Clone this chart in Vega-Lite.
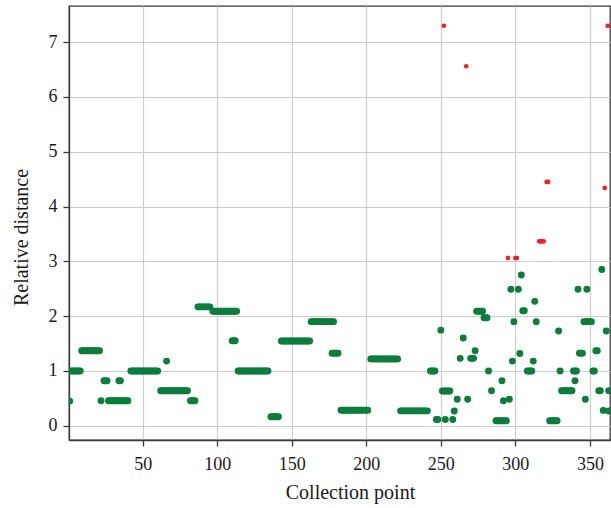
{
  "$schema": "https://vega.github.io/schema/vega-lite/v6.json",
  "width": 541,
  "height": 434,
  "autosize": {"type": "none"},
  "padding": {"left": 69, "top": 6, "right": 1, "bottom": 68},
  "background": "white",
  "config": {
    "font": "Liberation Serif",
    "view": {"stroke": "#3a3a3a", "strokeWidth": 1.3},
    "axis": {
      "gridColor": "#cccccc",
      "gridWidth": 1.2,
      "domainColor": "#3a3a3a",
      "domainWidth": 1.3,
      "tickColor": "#3a3a3a",
      "tickWidth": 1.3,
      "tickSize": 6,
      "labelFont": "Liberation Serif",
      "labelFontSize": 18,
      "labelColor": "#1a1a1a",
      "titleFont": "Liberation Serif",
      "titleFontSize": 20,
      "titleFontWeight": "normal",
      "titleColor": "#1a1a1a"
    }
  },
  "data": {
    "values": [
      {"point": 1, "distance": 0.45, "status": "normal"},
      {"point": 2, "distance": 1.0, "status": "normal"}, {"point": 3, "distance": 1.0, "status": "normal"}, {"point": 4, "distance": 1.0, "status": "normal"}, {"point": 5, "distance": 1.0, "status": "normal"}, {"point": 6, "distance": 1.0, "status": "normal"}, {"point": 7, "distance": 1.0, "status": "normal"}, {"point": 8, "distance": 1.0, "status": "normal"},
      {"point": 9, "distance": 1.37, "status": "normal"}, {"point": 10, "distance": 1.37, "status": "normal"}, {"point": 11, "distance": 1.37, "status": "normal"}, {"point": 12, "distance": 1.37, "status": "normal"}, {"point": 13, "distance": 1.37, "status": "normal"}, {"point": 14, "distance": 1.37, "status": "normal"}, {"point": 15, "distance": 1.37, "status": "normal"}, {"point": 16, "distance": 1.37, "status": "normal"}, {"point": 17, "distance": 1.37, "status": "normal"}, {"point": 18, "distance": 1.37, "status": "normal"}, {"point": 19, "distance": 1.37, "status": "normal"}, {"point": 20, "distance": 1.37, "status": "normal"}, {"point": 21, "distance": 1.37, "status": "normal"},
      {"point": 22, "distance": 0.455, "status": "normal"},
      {"point": 24, "distance": 0.82, "status": "normal"}, {"point": 25, "distance": 0.82, "status": "normal"}, {"point": 26, "distance": 0.82, "status": "normal"},
      {"point": 27, "distance": 0.455, "status": "normal"}, {"point": 28, "distance": 0.455, "status": "normal"}, {"point": 29, "distance": 0.455, "status": "normal"}, {"point": 30, "distance": 0.455, "status": "normal"}, {"point": 31, "distance": 0.455, "status": "normal"}, {"point": 32, "distance": 0.455, "status": "normal"}, {"point": 33, "distance": 0.455, "status": "normal"}, {"point": 34, "distance": 0.455, "status": "normal"}, {"point": 35, "distance": 0.455, "status": "normal"}, {"point": 36, "distance": 0.455, "status": "normal"}, {"point": 37, "distance": 0.455, "status": "normal"}, {"point": 38, "distance": 0.455, "status": "normal"}, {"point": 39, "distance": 0.455, "status": "normal"}, {"point": 40, "distance": 0.455, "status": "normal"},
      {"point": 34, "distance": 0.82, "status": "normal"}, {"point": 35, "distance": 0.82, "status": "normal"},
      {"point": 42, "distance": 1.0, "status": "normal"}, {"point": 43, "distance": 1.0, "status": "normal"}, {"point": 44, "distance": 1.0, "status": "normal"}, {"point": 45, "distance": 1.0, "status": "normal"}, {"point": 46, "distance": 1.0, "status": "normal"}, {"point": 47, "distance": 1.0, "status": "normal"}, {"point": 48, "distance": 1.0, "status": "normal"}, {"point": 49, "distance": 1.0, "status": "normal"}, {"point": 50, "distance": 1.0, "status": "normal"}, {"point": 51, "distance": 1.0, "status": "normal"}, {"point": 52, "distance": 1.0, "status": "normal"}, {"point": 53, "distance": 1.0, "status": "normal"}, {"point": 54, "distance": 1.0, "status": "normal"}, {"point": 55, "distance": 1.0, "status": "normal"}, {"point": 56, "distance": 1.0, "status": "normal"}, {"point": 57, "distance": 1.0, "status": "normal"}, {"point": 58, "distance": 1.0, "status": "normal"}, {"point": 59, "distance": 1.0, "status": "normal"}, {"point": 60, "distance": 1.0, "status": "normal"},
      {"point": 62, "distance": 0.64, "status": "normal"}, {"point": 63, "distance": 0.64, "status": "normal"}, {"point": 64, "distance": 0.64, "status": "normal"}, {"point": 65, "distance": 0.64, "status": "normal"}, {"point": 66, "distance": 0.64, "status": "normal"}, {"point": 67, "distance": 0.64, "status": "normal"}, {"point": 68, "distance": 0.64, "status": "normal"}, {"point": 69, "distance": 0.64, "status": "normal"}, {"point": 70, "distance": 0.64, "status": "normal"}, {"point": 71, "distance": 0.64, "status": "normal"}, {"point": 72, "distance": 0.64, "status": "normal"}, {"point": 73, "distance": 0.64, "status": "normal"}, {"point": 74, "distance": 0.64, "status": "normal"}, {"point": 75, "distance": 0.64, "status": "normal"}, {"point": 76, "distance": 0.64, "status": "normal"}, {"point": 77, "distance": 0.64, "status": "normal"}, {"point": 78, "distance": 0.64, "status": "normal"}, {"point": 79, "distance": 0.64, "status": "normal"}, {"point": 80, "distance": 0.64, "status": "normal"},
      {"point": 66, "distance": 1.18, "status": "normal"},
      {"point": 82, "distance": 0.455, "status": "normal"}, {"point": 83, "distance": 0.455, "status": "normal"}, {"point": 84, "distance": 0.455, "status": "normal"}, {"point": 85, "distance": 0.455, "status": "normal"},
      {"point": 87, "distance": 2.17, "status": "normal"}, {"point": 88, "distance": 2.17, "status": "normal"}, {"point": 89, "distance": 2.17, "status": "normal"}, {"point": 90, "distance": 2.17, "status": "normal"}, {"point": 91, "distance": 2.17, "status": "normal"}, {"point": 92, "distance": 2.17, "status": "normal"}, {"point": 93, "distance": 2.17, "status": "normal"}, {"point": 94, "distance": 2.17, "status": "normal"}, {"point": 95, "distance": 2.17, "status": "normal"},
      {"point": 97, "distance": 2.09, "status": "normal"}, {"point": 98, "distance": 2.09, "status": "normal"}, {"point": 99, "distance": 2.09, "status": "normal"}, {"point": 100, "distance": 2.09, "status": "normal"}, {"point": 101, "distance": 2.09, "status": "normal"}, {"point": 102, "distance": 2.09, "status": "normal"}, {"point": 103, "distance": 2.09, "status": "normal"}, {"point": 104, "distance": 2.09, "status": "normal"}, {"point": 105, "distance": 2.09, "status": "normal"}, {"point": 106, "distance": 2.09, "status": "normal"}, {"point": 107, "distance": 2.09, "status": "normal"}, {"point": 108, "distance": 2.09, "status": "normal"}, {"point": 109, "distance": 2.09, "status": "normal"}, {"point": 110, "distance": 2.09, "status": "normal"}, {"point": 111, "distance": 2.09, "status": "normal"}, {"point": 112, "distance": 2.09, "status": "normal"}, {"point": 113, "distance": 2.09, "status": "normal"},
      {"point": 110, "distance": 1.55, "status": "normal"}, {"point": 111, "distance": 1.55, "status": "normal"}, {"point": 112, "distance": 1.55, "status": "normal"},
      {"point": 114, "distance": 1.0, "status": "normal"}, {"point": 115, "distance": 1.0, "status": "normal"}, {"point": 116, "distance": 1.0, "status": "normal"}, {"point": 117, "distance": 1.0, "status": "normal"}, {"point": 118, "distance": 1.0, "status": "normal"}, {"point": 119, "distance": 1.0, "status": "normal"}, {"point": 120, "distance": 1.0, "status": "normal"}, {"point": 121, "distance": 1.0, "status": "normal"}, {"point": 122, "distance": 1.0, "status": "normal"}, {"point": 123, "distance": 1.0, "status": "normal"}, {"point": 124, "distance": 1.0, "status": "normal"}, {"point": 125, "distance": 1.0, "status": "normal"}, {"point": 126, "distance": 1.0, "status": "normal"}, {"point": 127, "distance": 1.0, "status": "normal"}, {"point": 128, "distance": 1.0, "status": "normal"}, {"point": 129, "distance": 1.0, "status": "normal"}, {"point": 130, "distance": 1.0, "status": "normal"}, {"point": 131, "distance": 1.0, "status": "normal"}, {"point": 132, "distance": 1.0, "status": "normal"}, {"point": 133, "distance": 1.0, "status": "normal"}, {"point": 134, "distance": 1.0, "status": "normal"},
      {"point": 136, "distance": 0.165, "status": "normal"}, {"point": 137, "distance": 0.165, "status": "normal"}, {"point": 138, "distance": 0.165, "status": "normal"}, {"point": 139, "distance": 0.165, "status": "normal"}, {"point": 140, "distance": 0.165, "status": "normal"}, {"point": 141, "distance": 0.165, "status": "normal"},
      {"point": 143, "distance": 1.545, "status": "normal"}, {"point": 144, "distance": 1.545, "status": "normal"}, {"point": 145, "distance": 1.545, "status": "normal"}, {"point": 146, "distance": 1.545, "status": "normal"}, {"point": 147, "distance": 1.545, "status": "normal"}, {"point": 148, "distance": 1.545, "status": "normal"}, {"point": 149, "distance": 1.545, "status": "normal"}, {"point": 150, "distance": 1.545, "status": "normal"}, {"point": 151, "distance": 1.545, "status": "normal"}, {"point": 152, "distance": 1.545, "status": "normal"}, {"point": 153, "distance": 1.545, "status": "normal"}, {"point": 154, "distance": 1.545, "status": "normal"}, {"point": 155, "distance": 1.545, "status": "normal"}, {"point": 156, "distance": 1.545, "status": "normal"}, {"point": 157, "distance": 1.545, "status": "normal"}, {"point": 158, "distance": 1.545, "status": "normal"}, {"point": 159, "distance": 1.545, "status": "normal"}, {"point": 160, "distance": 1.545, "status": "normal"}, {"point": 161, "distance": 1.545, "status": "normal"}, {"point": 162, "distance": 1.545, "status": "normal"},
      {"point": 163, "distance": 1.9, "status": "normal"}, {"point": 164, "distance": 1.9, "status": "normal"}, {"point": 165, "distance": 1.9, "status": "normal"}, {"point": 166, "distance": 1.9, "status": "normal"}, {"point": 167, "distance": 1.9, "status": "normal"}, {"point": 168, "distance": 1.9, "status": "normal"}, {"point": 169, "distance": 1.9, "status": "normal"}, {"point": 170, "distance": 1.9, "status": "normal"}, {"point": 171, "distance": 1.9, "status": "normal"}, {"point": 172, "distance": 1.9, "status": "normal"}, {"point": 173, "distance": 1.9, "status": "normal"}, {"point": 174, "distance": 1.9, "status": "normal"}, {"point": 175, "distance": 1.9, "status": "normal"}, {"point": 176, "distance": 1.9, "status": "normal"}, {"point": 177, "distance": 1.9, "status": "normal"}, {"point": 178, "distance": 1.9, "status": "normal"},
      {"point": 177, "distance": 1.325, "status": "normal"}, {"point": 178, "distance": 1.325, "status": "normal"}, {"point": 179, "distance": 1.325, "status": "normal"}, {"point": 180, "distance": 1.325, "status": "normal"}, {"point": 181, "distance": 1.325, "status": "normal"},
      {"point": 183, "distance": 0.285, "status": "normal"}, {"point": 184, "distance": 0.285, "status": "normal"}, {"point": 185, "distance": 0.285, "status": "normal"}, {"point": 186, "distance": 0.285, "status": "normal"}, {"point": 187, "distance": 0.285, "status": "normal"}, {"point": 188, "distance": 0.285, "status": "normal"}, {"point": 189, "distance": 0.285, "status": "normal"}, {"point": 190, "distance": 0.285, "status": "normal"}, {"point": 191, "distance": 0.285, "status": "normal"}, {"point": 192, "distance": 0.285, "status": "normal"}, {"point": 193, "distance": 0.285, "status": "normal"}, {"point": 194, "distance": 0.285, "status": "normal"}, {"point": 195, "distance": 0.285, "status": "normal"}, {"point": 196, "distance": 0.285, "status": "normal"}, {"point": 197, "distance": 0.285, "status": "normal"}, {"point": 198, "distance": 0.285, "status": "normal"}, {"point": 199, "distance": 0.285, "status": "normal"}, {"point": 200, "distance": 0.285, "status": "normal"}, {"point": 201, "distance": 0.285, "status": "normal"},
      {"point": 203, "distance": 1.22, "status": "normal"}, {"point": 204, "distance": 1.22, "status": "normal"}, {"point": 205, "distance": 1.22, "status": "normal"}, {"point": 206, "distance": 1.22, "status": "normal"}, {"point": 207, "distance": 1.22, "status": "normal"}, {"point": 208, "distance": 1.22, "status": "normal"}, {"point": 209, "distance": 1.22, "status": "normal"}, {"point": 210, "distance": 1.22, "status": "normal"}, {"point": 211, "distance": 1.22, "status": "normal"}, {"point": 212, "distance": 1.22, "status": "normal"}, {"point": 213, "distance": 1.22, "status": "normal"}, {"point": 214, "distance": 1.22, "status": "normal"}, {"point": 215, "distance": 1.22, "status": "normal"}, {"point": 216, "distance": 1.22, "status": "normal"}, {"point": 217, "distance": 1.22, "status": "normal"}, {"point": 218, "distance": 1.22, "status": "normal"}, {"point": 219, "distance": 1.22, "status": "normal"}, {"point": 220, "distance": 1.22, "status": "normal"}, {"point": 221, "distance": 1.22, "status": "normal"},
      {"point": 223, "distance": 0.272, "status": "normal"}, {"point": 224, "distance": 0.272, "status": "normal"}, {"point": 225, "distance": 0.272, "status": "normal"}, {"point": 226, "distance": 0.272, "status": "normal"}, {"point": 227, "distance": 0.272, "status": "normal"}, {"point": 228, "distance": 0.272, "status": "normal"}, {"point": 229, "distance": 0.272, "status": "normal"}, {"point": 230, "distance": 0.272, "status": "normal"}, {"point": 231, "distance": 0.272, "status": "normal"}, {"point": 232, "distance": 0.272, "status": "normal"}, {"point": 233, "distance": 0.272, "status": "normal"}, {"point": 234, "distance": 0.272, "status": "normal"}, {"point": 235, "distance": 0.272, "status": "normal"}, {"point": 236, "distance": 0.272, "status": "normal"}, {"point": 237, "distance": 0.272, "status": "normal"}, {"point": 238, "distance": 0.272, "status": "normal"}, {"point": 239, "distance": 0.272, "status": "normal"}, {"point": 240, "distance": 0.272, "status": "normal"}, {"point": 241, "distance": 0.272, "status": "normal"},
      {"point": 243, "distance": 1.0, "status": "normal"}, {"point": 244, "distance": 1.0, "status": "normal"}, {"point": 245, "distance": 1.0, "status": "normal"}, {"point": 246, "distance": 1.0, "status": "normal"},
      {"point": 247, "distance": 0.115, "status": "normal"}, {"point": 248, "distance": 0.115, "status": "normal"},
      {"point": 250, "distance": 1.745, "status": "normal"},
      {"point": 251, "distance": 0.635, "status": "normal"}, {"point": 252, "distance": 0.635, "status": "normal"}, {"point": 253, "distance": 0.635, "status": "normal"}, {"point": 254, "distance": 0.635, "status": "normal"}, {"point": 255, "distance": 0.635, "status": "normal"}, {"point": 256, "distance": 0.635, "status": "normal"},
      {"point": 253, "distance": 0.115, "status": "normal"},
      {"point": 258, "distance": 0.115, "status": "normal"},
      {"point": 259, "distance": 0.27, "status": "normal"},
      {"point": 261, "distance": 0.485, "status": "normal"},
      {"point": 263, "distance": 1.23, "status": "normal"},
      {"point": 265, "distance": 1.6, "status": "normal"},
      {"point": 268, "distance": 0.485, "status": "normal"},
      {"point": 270, "distance": 1.23, "status": "normal"}, {"point": 271, "distance": 1.23, "status": "normal"}, {"point": 272, "distance": 1.23, "status": "normal"},
      {"point": 273, "distance": 1.37, "status": "normal"},
      {"point": 274, "distance": 2.09, "status": "normal"}, {"point": 275, "distance": 2.09, "status": "normal"}, {"point": 276, "distance": 2.09, "status": "normal"}, {"point": 277, "distance": 2.09, "status": "normal"}, {"point": 278, "distance": 2.09, "status": "normal"},
      {"point": 279, "distance": 1.97, "status": "normal"}, {"point": 280, "distance": 1.97, "status": "normal"}, {"point": 281, "distance": 1.97, "status": "normal"},
      {"point": 282, "distance": 1.0, "status": "normal"},
      {"point": 284, "distance": 0.64, "status": "normal"},
      {"point": 287, "distance": 0.09, "status": "normal"}, {"point": 288, "distance": 0.09, "status": "normal"}, {"point": 289, "distance": 0.09, "status": "normal"}, {"point": 290, "distance": 0.09, "status": "normal"}, {"point": 291, "distance": 0.09, "status": "normal"}, {"point": 292, "distance": 0.09, "status": "normal"}, {"point": 293, "distance": 0.09, "status": "normal"}, {"point": 294, "distance": 0.09, "status": "normal"},
      {"point": 291, "distance": 0.82, "status": "normal"},
      {"point": 292, "distance": 0.455, "status": "normal"},
      {"point": 296, "distance": 0.485, "status": "normal"},
      {"point": 297, "distance": 2.49, "status": "normal"},
      {"point": 298, "distance": 1.18, "status": "normal"},
      {"point": 299, "distance": 1.9, "status": "normal"},
      {"point": 302, "distance": 2.49, "status": "normal"},
      {"point": 303, "distance": 1.32, "status": "normal"},
      {"point": 304, "distance": 2.75, "status": "normal"},
      {"point": 305, "distance": 2.1, "status": "normal"}, {"point": 306, "distance": 2.1, "status": "normal"},
      {"point": 308, "distance": 1.0, "status": "normal"}, {"point": 309, "distance": 1.0, "status": "normal"}, {"point": 310, "distance": 1.0, "status": "normal"}, {"point": 311, "distance": 1.0, "status": "normal"},
      {"point": 312, "distance": 1.18, "status": "normal"},
      {"point": 313, "distance": 2.27, "status": "normal"},
      {"point": 314, "distance": 1.9, "status": "normal"},
      {"point": 323, "distance": 0.09, "status": "normal"}, {"point": 324, "distance": 0.09, "status": "normal"}, {"point": 325, "distance": 0.09, "status": "normal"}, {"point": 326, "distance": 0.09, "status": "normal"}, {"point": 327, "distance": 0.09, "status": "normal"}, {"point": 328, "distance": 0.09, "status": "normal"},
      {"point": 329, "distance": 1.73, "status": "normal"},
      {"point": 330, "distance": 1.0, "status": "normal"},
      {"point": 331, "distance": 0.64, "status": "normal"}, {"point": 332, "distance": 0.64, "status": "normal"}, {"point": 333, "distance": 0.64, "status": "normal"}, {"point": 334, "distance": 0.64, "status": "normal"}, {"point": 335, "distance": 0.64, "status": "normal"}, {"point": 336, "distance": 0.64, "status": "normal"}, {"point": 337, "distance": 0.64, "status": "normal"}, {"point": 338, "distance": 0.64, "status": "normal"},
      {"point": 339, "distance": 1.0, "status": "normal"}, {"point": 340, "distance": 1.0, "status": "normal"}, {"point": 341, "distance": 1.0, "status": "normal"},
      {"point": 340, "distance": 0.82, "status": "normal"},
      {"point": 342, "distance": 2.49, "status": "normal"},
      {"point": 343, "distance": 1.325, "status": "normal"}, {"point": 344, "distance": 1.325, "status": "normal"}, {"point": 345, "distance": 1.325, "status": "normal"},
      {"point": 346, "distance": 1.9, "status": "normal"}, {"point": 347, "distance": 1.9, "status": "normal"}, {"point": 348, "distance": 1.9, "status": "normal"}, {"point": 349, "distance": 1.9, "status": "normal"}, {"point": 350, "distance": 1.9, "status": "normal"}, {"point": 351, "distance": 1.9, "status": "normal"},
      {"point": 347, "distance": 0.485, "status": "normal"},
      {"point": 348, "distance": 2.49, "status": "normal"},
      {"point": 352, "distance": 1.0, "status": "normal"}, {"point": 353, "distance": 1.0, "status": "normal"},
      {"point": 354, "distance": 1.37, "status": "normal"}, {"point": 355, "distance": 1.37, "status": "normal"},
      {"point": 356, "distance": 0.64, "status": "normal"}, {"point": 357, "distance": 0.64, "status": "normal"},
      {"point": 358, "distance": 2.85, "status": "normal"},
      {"point": 359, "distance": 0.28, "status": "normal"},
      {"point": 361, "distance": 1.73, "status": "normal"},
      {"point": 362.6, "distance": 0.64, "status": "normal"},
      {"point": 362.6, "distance": 0.27, "status": "normal"},
      {"point": 252, "distance": 7.3, "status": "abnormal"},
      {"point": 267, "distance": 6.56, "status": "abnormal"},
      {"point": 295, "distance": 3.06, "status": "abnormal"},
      {"point": 300, "distance": 3.06, "status": "abnormal"}, {"point": 301, "distance": 3.06, "status": "abnormal"},
      {"point": 316, "distance": 3.365, "status": "abnormal"}, {"point": 317, "distance": 3.365, "status": "abnormal"}, {"point": 318, "distance": 3.365, "status": "abnormal"}, {"point": 319, "distance": 3.365, "status": "abnormal"},
      {"point": 321, "distance": 4.45, "status": "abnormal"}, {"point": 322, "distance": 4.45, "status": "abnormal"},
      {"point": 360, "distance": 4.34, "status": "abnormal"},
      {"point": 362, "distance": 7.3, "status": "abnormal"}
    ]
  },
  "mark": {"type": "circle", "opacity": 1, "clip": true},
  "encoding": {
    "x": {
      "field": "point",
      "type": "quantitative",
      "title": "Collection point",
      "scale": {"domain": [0.5, 363.5], "nice": false, "zero": false},
      "axis": {
        "values": [50, 100, 150, 200, 250, 300, 350],
        "labelPadding": 9,
        "titlePadding": 9,
        "titleX": 281
      }
    },
    "y": {
      "field": "distance",
      "type": "quantitative",
      "title": "Relative distance",
      "scale": {"domain": [-0.26, 7.66], "nice": false, "zero": false},
      "axis": {
        "values": [0, 1, 2, 3, 4, 5, 6, 7],
        "labelPadding": 6,
        "titlePadding": 17,
        "titleY": 231
      }
    },
    "color": {
      "field": "status",
      "type": "nominal",
      "scale": {"domain": ["normal", "abnormal"], "range": ["#0b7d3d", "#f31d2b"]},
      "legend": null
    },
    "size": {
      "field": "status",
      "type": "nominal",
      "scale": {"domain": ["normal", "abnormal"], "range": [48, 22]},
      "legend": null
    }
  }
}
